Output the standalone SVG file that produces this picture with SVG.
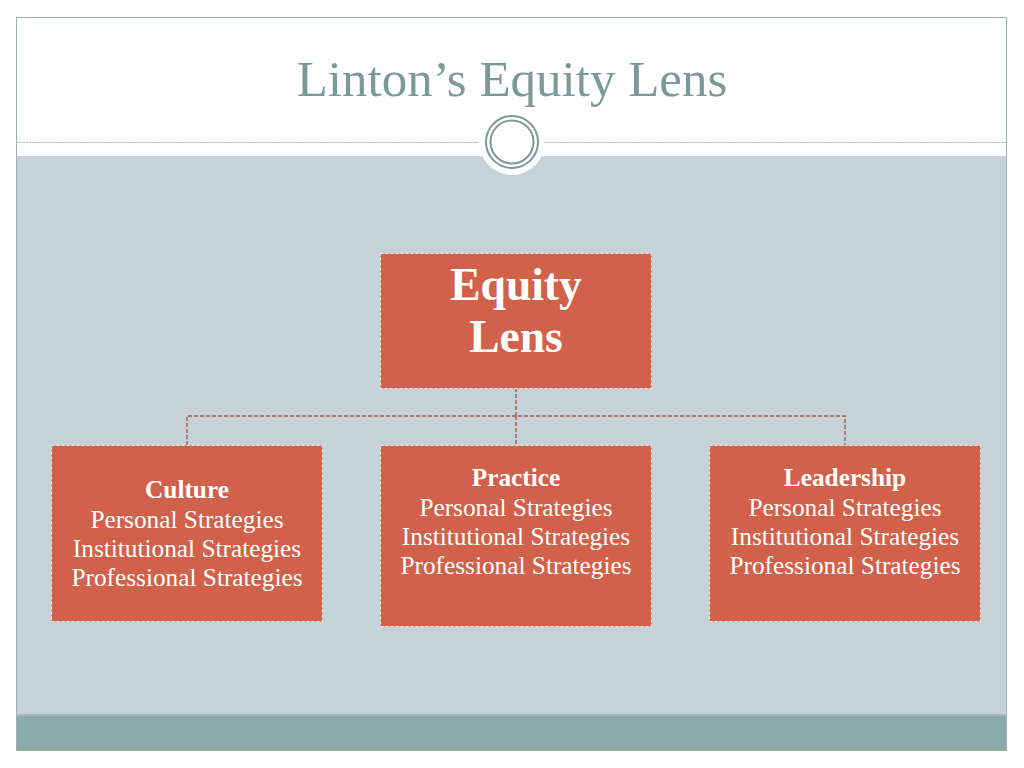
<svg xmlns="http://www.w3.org/2000/svg" width="1024" height="768" viewBox="0 0 1024 768">
<style>
.box{fill:#d1614a;stroke:#f3e6e0;stroke-width:1.2;stroke-dasharray:3 2}
.conn{fill:none;stroke:#a9503c;stroke-width:1.3;stroke-dasharray:4 2}
.t{font-family:"Liberation Serif","Times New Roman",serif;fill:#ffffff;text-anchor:middle}
.b{font-weight:bold}
</style>
<rect x="0" y="0" width="1024" height="768" fill="#ffffff"/>
<rect x="16.5" y="17.5" width="990" height="733" fill="#ffffff" stroke="#9fb0ae" stroke-width="1"/>
<rect x="17" y="156" width="989" height="560" fill="#c5d2d7"/>
<rect x="17" y="715" width="989" height="35" fill="#8aaaa9"/>
<line x1="17" y1="715" x2="1006" y2="715" stroke="#aab8bd" stroke-width="2"/>
<line x1="17" y1="142.5" x2="482" y2="142.5" stroke="#a8b6b4" stroke-width="1" stroke-dasharray="2 1"/>
<line x1="545" y1="142.5" x2="1006" y2="142.5" stroke="#a8b6b4" stroke-width="1" stroke-dasharray="2 1"/>
<circle cx="512" cy="142" r="33" fill="#ffffff"/>
<circle cx="512" cy="142" r="26" fill="none" stroke="#7f9895" stroke-width="2"/>
<circle cx="512" cy="142" r="21.5" fill="none" stroke="#7f9895" stroke-width="2"/>
<text x="512" y="96" font-family="Liberation Serif, Times New Roman, serif" font-size="51" fill="#7c9a95" text-anchor="middle">Linton’s Equity Lens</text>
<g id="connectors">
<path class="conn" d="M516 388 V416 M187 445 V416 H845 V445 M516 416 V445"/>
</g>
<g id="equity-lens">
<rect class="box" x="380.5" y="253.5" width="271" height="135"/>
<text class="t b" x="516" y="300" font-size="45.5">Equity</text>
<text class="t b" x="516" y="352" font-size="45.5">Lens</text>
</g>
<g id="culture">
<rect class="box" x="51.5" y="445.5" width="271" height="176"/>
<text class="t b" x="187" y="498" font-size="25.3">Culture</text>
<text class="t" x="187" y="528" font-size="25.3">Personal Strategies</text>
<text class="t" x="187" y="557" font-size="25.3">Institutional Strategies</text>
<text class="t" x="187" y="586" font-size="25.3">Professional Strategies</text>
</g>
<g id="practice">
<rect class="box" x="380.5" y="445.5" width="271" height="181"/>
<text class="t b" x="516" y="486" font-size="25.3">Practice</text>
<text class="t" x="516" y="516" font-size="25.3">Personal Strategies</text>
<text class="t" x="516" y="545" font-size="25.3">Institutional Strategies</text>
<text class="t" x="516" y="574" font-size="25.3">Professional Strategies</text>
</g>
<g id="leadership">
<rect class="box" x="709.5" y="445.5" width="271" height="176"/>
<text class="t b" x="845" y="486" font-size="25.3">Leadership</text>
<text class="t" x="845" y="516" font-size="25.3">Personal Strategies</text>
<text class="t" x="845" y="545" font-size="25.3">Institutional Strategies</text>
<text class="t" x="845" y="574" font-size="25.3">Professional Strategies</text>
</g>
</svg>
